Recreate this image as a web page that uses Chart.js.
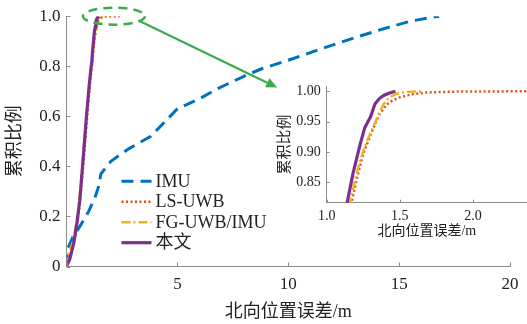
<!DOCTYPE html>
<html>
<head>
<meta charset="utf-8">
<script src="https://cdn.jsdelivr.net/npm/chart.js@4"></script>
<style>
  html, body { margin: 0; padding: 0; background: #fff; }
  #wrap { position: relative; width: 527px; height: 324px; overflow: hidden; }
  #main { position: absolute; left: 0; top: 0; }
  #inset { position: absolute; left: 262px; top: 72px; }
</style>
</head>
<body>
<div id="wrap">
  <canvas id="main" width="527" height="324"></canvas>
  <canvas id="inset" width="265" height="175"></canvas>
</div>
<script>
// series (CDF of north position error)
const seriesNames = ['IMU', 'LS-UWB', 'FG-UWB/IMU', '本文'];

const imuX = [0, 0.05, 0.3, 0.6, 1.0, 1.3, 1.45, 1.55, 2.0, 2.8, 3.8, 5.0, 6.0, 6.8, 8.0, 8.8, 10.2, 11.5, 13.2, 14.5, 15.5, 16.8];
const imuY = [0, 0.07, 0.12, 0.16, 0.22, 0.28, 0.32, 0.37, 0.42, 0.47, 0.52, 0.63, 0.67, 0.71, 0.76, 0.79, 0.83, 0.87, 0.92, 0.955, 0.98, 1.0];

const lsX = [0, 0.2, 0.4, 0.6, 0.78, 0.95, 1.08, 1.17, 1.21, 1.25, 1.29, 1.32, 1.36, 1.41, 1.45, 1.5, 1.58, 1.68, 1.9, 2.4];
const lsY = [0, 0.05, 0.12, 0.25, 0.43, 0.62, 0.75, 0.817, 0.86, 0.897, 0.922, 0.94, 0.962, 0.978, 0.985, 0.99, 0.995, 0.998, 0.9995, 1.0];

const fgX = [0, 0.1, 0.3, 0.5, 0.65, 0.8, 0.95, 1.07, 1.16, 1.2, 1.23, 1.27, 1.32, 1.36, 1.39, 1.43, 1.48, 1.55, 1.66];
const fgY = [0, 0.05, 0.1, 0.2, 0.33, 0.5, 0.65, 0.76, 0.817, 0.86, 0.887, 0.915, 0.942, 0.965, 0.979, 0.99, 0.996, 0.999, 1.0];

const oursX = [0, 0.15, 0.32, 0.48, 0.6, 0.75, 0.9, 1.02, 1.1, 1.14, 1.18, 1.23, 1.26, 1.3, 1.33, 1.36, 1.39, 1.43, 1.47];
const oursY = [0, 0.03, 0.09, 0.18, 0.265, 0.43, 0.6, 0.72, 0.79, 0.817, 0.865, 0.914, 0.94, 0.958, 0.979, 0.988, 0.993, 0.997, 1.0];

// tick labels
const mainXTicks = [0, 5, 10, 15, 20];
const mainYTicks = [0, 0.2, 0.4, 0.6, 0.8, 1.0];
const insetXTicks = [1.0, 1.5, 2.0];
const insetYTicks = [0.85, 0.90, 0.95, 1.00];

const SERIF = '"Liberation Serif", "Noto Sans CJK SC", serif';
const AXIS = '#8c8c8c';
const TEXT = '#222';
const GREEN = '#3bab4a';

const styles = [
  { color: '#0072BD', width: 3, dash: [12, 7] },
  { color: '#D95319', width: 2.5, dash: [2, 2.5] },
  { color: '#EDB120', width: 2.5, dash: [9, 3, 2, 3] },
  { color: '#7E2F8E', width: 3.2, dash: [] }
];
const allX = [imuX, lsX, fgX, oursX];
const allY = [imuY, lsY, fgY, oursY];

function makeDatasets() {
  return seriesNames.map((name, i) => ({
    label: name,
    data: allX[i].map((x, k) => ({ x: x, y: allY[i][k] })),
    borderColor: styles[i].color,
    borderWidth: styles[i].width,
    borderDash: styles[i].dash,
    pointRadius: 0,
    showLine: true,
    fill: false,
    tension: 0,
    order: 3 - i
  }));
}

const innerTicks = {
  id: 'innerTicks',
  afterDraw(chart, args, opts) {
    const { ctx, chartArea: a, scales: { x, y } } = chart;
    ctx.save();
    ctx.strokeStyle = AXIS;
    ctx.lineWidth = 1;
    ctx.beginPath();
    x.ticks.forEach(t => {
      const px = Math.round(x.getPixelForValue(t.value)) + 0.5;
      ctx.moveTo(px, a.bottom);
      ctx.lineTo(px, a.bottom - opts.len);
    });
    y.ticks.forEach(t => {
      const py = Math.round(y.getPixelForValue(t.value)) + 0.5;
      ctx.moveTo(a.left, py);
      ctx.lineTo(a.left + opts.len, py);
    });
    ctx.stroke();
    ctx.restore();
  }
};

// legend drawn inside the plot area
const innerLegend = {
  id: 'innerLegend',
  afterDatasetsDraw(chart) {
    const { ctx, chartArea: a } = chart;
    const x0 = a.left + 55, y0 = a.top + 165, step = 20.5;
    ctx.save();
    ctx.font = '18px ' + SERIF;
    ctx.textBaseline = 'middle';
    ctx.fillStyle = TEXT;
    chart.data.datasets.forEach((ds, i) => {
      const yy = y0 + i * step;
      ctx.strokeStyle = ds.borderColor;
      ctx.lineWidth = ds.borderWidth;
      ctx.setLineDash(ds.borderDash);
      ctx.beginPath();
      ctx.moveTo(x0, yy);
      ctx.lineTo(x0 + 30, yy);
      ctx.stroke();
      ctx.setLineDash([]);
      ctx.fillText(ds.label, x0 + 34, yy + 1);
    });
    ctx.restore();
  }
};

// zoom mark (ellipse) and arrow towards the inset
const zoomCenter = { x: 2.14, y: 1.0 };
const arrowTarget = { x: 9.5, y: 0.715 };
const zoomMark = {
  id: 'zoomMark',
  afterDraw(chart) {
    const { ctx, scales: { x, y } } = chart;
    const cx = x.getPixelForValue(zoomCenter.x), cy = y.getPixelForValue(zoomCenter.y);
    const rx = 31, ry = 8.5;
    ctx.save();
    ctx.strokeStyle = GREEN;
    ctx.fillStyle = GREEN;
    ctx.lineWidth = 2.5;
    ctx.setLineDash([9, 6]);
    ctx.beginPath();
    ctx.ellipse(cx, cy, rx, ry, 0, 0, Math.PI * 2);
    ctx.stroke();
    ctx.setLineDash([]);
    const t = 0.6;
    const sx = cx + rx * Math.cos(t), sy = cy + ry * Math.sin(t);
    const ex = x.getPixelForValue(arrowTarget.x), ey = y.getPixelForValue(arrowTarget.y);
    const ang = Math.atan2(ey - sy, ex - sx);
    const hl = 11, hw = 5;
    const bx = ex - hl * Math.cos(ang), by = ey - hl * Math.sin(ang);
    ctx.lineWidth = 2;
    ctx.beginPath();
    ctx.moveTo(sx, sy);
    ctx.lineTo(bx, by);
    ctx.stroke();
    ctx.beginPath();
    ctx.moveTo(ex, ey);
    ctx.lineTo(bx + hw * Math.sin(ang), by - hw * Math.cos(ang));
    ctx.lineTo(bx - hw * Math.sin(ang), by + hw * Math.cos(ang));
    ctx.closePath();
    ctx.fill();
    ctx.restore();
  }
};

new Chart(document.getElementById('main'), {
  type: 'scatter',
  data: { datasets: makeDatasets() },
  plugins: [innerTicks, innerLegend, zoomMark],
  options: {
    responsive: false,
    animation: false,
    layout: { padding: { top: 15, right: 17, left: 0, bottom: 0 } },
    plugins: {
      legend: { display: false },
      tooltip: { enabled: false },
      innerTicks: { len: 4 }
    },
    scales: {
      x: {
        type: 'linear', min: 0, max: 20,
        grid: { display: false, drawTicks: false },
        border: { color: AXIS },
        afterBuildTicks: s => { s.ticks = mainXTicks.map(v => ({ value: v })); },
        afterFit: s => { s.height = 57.5; },
        ticks: {
          font: { family: SERIF, size: 17 }, color: TEXT, padding: 8, maxRotation: 0,
          callback: v => v === 0 ? '' : String(v)
        },
        title: {
          display: true, text: '北向位置误差/m', color: TEXT,
          font: { family: SERIF, size: 18 }, padding: { top: 0, bottom: 1 }
        }
      },
      y: {
        type: 'linear', min: 0, max: 1,
        grid: { display: false, drawTicks: false },
        border: { color: AXIS },
        afterBuildTicks: s => { s.ticks = mainYTicks.map(v => ({ value: v })); },
        afterFit: s => { s.width = 66.5; },
        ticks: {
          font: { family: SERIF, size: 17 }, color: TEXT, padding: 6,
          callback: v => v === 0 ? '0' : v.toFixed(1)
        },
        title: {
          display: true, text: '累积比例', color: TEXT,
          font: { family: SERIF, size: 18 }, padding: { top: 4, bottom: 0 }
        }
      }
    }
  }
});

new Chart(document.getElementById('inset'), {
  type: 'scatter',
  data: { datasets: makeDatasets() },
  plugins: [innerTicks],
  options: {
    responsive: false,
    animation: false,
    layout: { padding: { top: 14, right: 0, left: 0, bottom: 0 } },
    plugins: {
      legend: { display: false },
      tooltip: { enabled: false },
      innerTicks: { len: 3 }
    },
    scales: {
      x: {
        type: 'linear', min: 1.0, max: 2.37,
        grid: { display: false, drawTicks: false },
        border: { color: AXIS },
        afterBuildTicks: s => { s.ticks = insetXTicks.map(v => ({ value: v })); },
        afterFit: s => { s.height = 44.3; },
        ticks: {
          font: { family: SERIF, size: 14 }, color: TEXT, padding: 5, maxRotation: 0,
          callback: v => v.toFixed(1)
        },
        title: {
          display: true, text: '北向位置误差/m', color: TEXT,
          font: { family: SERIF, size: 14 }, padding: { top: 0, bottom: 7 }
        }
      },
      y: {
        type: 'linear', min: 0.8167, max: 1.008,
        grid: { display: false, drawTicks: false },
        border: { color: AXIS },
        afterBuildTicks: s => { s.ticks = insetYTicks.map(v => ({ value: v })); },
        afterFit: s => { s.width = 64.7; },
        ticks: {
          font: { family: SERIF, size: 14 }, color: TEXT, padding: 6,
          callback: v => v.toFixed(2)
        },
        title: {
          display: true, text: '累积比例', color: TEXT,
          font: { family: SERIF, size: 15 }, padding: { top: 14, bottom: 0 }
        }
      }
    }
  }
});
</script>
</body>
</html>
